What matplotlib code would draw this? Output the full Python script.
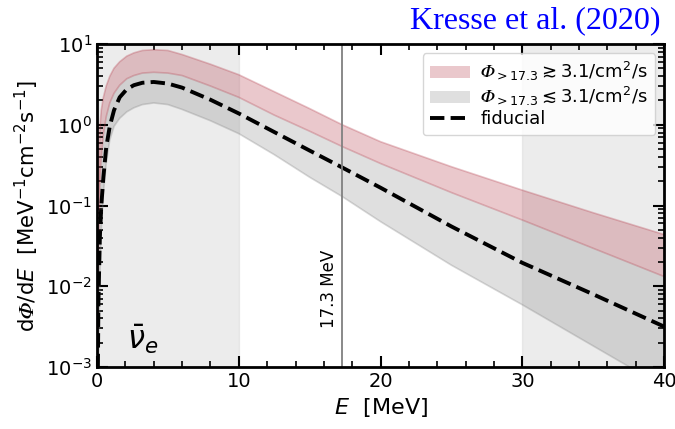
import numpy as np
import matplotlib
matplotlib.use("Agg")
import matplotlib.pyplot as plt

# energy grid (MeV) and log10 of dPhi/dE
energy = [0.02, 0.1, 0.2, 0.3, 0.45, 0.65, 0.9, 1.2, 1.6, 2.1, 2.6, 3.2, 4, 5, 6,
          8, 10, 12.5, 15, 17.3, 20, 25, 30, 35, 40]
logRedUpper = [-3.2, -1.0, -0.05, 0.18, 0.34, 0.48, 0.60, 0.70, 0.78, 0.85, 0.89, 0.92, 0.93, 0.92, 0.87,
               0.75, 0.62, 0.41, 0.20, 0.0, -0.21, -0.52, -0.81, -1.09, -1.36]
logRedLower = [-3.5, -1.6, -0.75, -0.40, -0.12, 0.10, 0.27, 0.39, 0.49, 0.57, 0.61, 0.64, 0.65, 0.64, 0.61,
               0.48, 0.34, 0.12, -0.08, -0.27, -0.48, -0.84, -1.18, -1.53, -1.88]
logFiducial = [-4.0, -2.2, -1.4, -1.01, -0.65, -0.28, -0.02, 0.18, 0.34, 0.44, 0.49, 0.52, 0.53, 0.51, 0.46,
               0.31, 0.14, -0.09, -0.32, -0.53, -0.78, -1.26, -1.71, -2.10, -2.50]
logGrayLower = [-5.0, -3.0, -1.9, -1.3, -0.85, -0.48, -0.19, -0.02, 0.08, 0.16, 0.21, 0.25, 0.27, 0.25, 0.19,
                0.05, -0.11, -0.37, -0.65, -0.89, -1.20, -1.74, -2.23, -2.74, -3.25]

E = np.array(energy)
redUp = 10 ** np.array(logRedUpper)
redLo = 10 ** np.array(logRedLower)
fid = 10 ** np.array(logFiducial)
grayLo = 10 ** np.array(logGrayLower)

plt.rcParams['font.family'] = ['DejaVu Sans']
plt.rcParams['font.size'] = 14

PHI = '\U0001D6F7'  # mathematical italic capital phi

fig = plt.figure(figsize=(6.75, 4.29), dpi=100)
ax = fig.add_axes([0.1437, 0.1445, 0.8403, 0.7529])

# shaded energy windows
ax.axvspan(0, 10, facecolor='gray', alpha=0.15, edgecolor='0.6', lw=1)
ax.axvspan(30, 40, facecolor='gray', alpha=0.15, edgecolor='0.6', lw=1)

redCol = '#b43c4b'
ax.fill_between(E, redLo, redUp, facecolor=redCol, alpha=0.28, edgecolor='none',
                label='$' + PHI + r'_{{>}17.3} \gtrsim 3.1/\mathrm{cm}^2/\mathrm{s}$')
ax.plot(E, redUp, color=redCol, alpha=0.3, lw=1.2)
ax.plot(E, redLo, color=redCol, alpha=0.3, lw=1.2)
ax.fill_between(E, grayLo, redLo, facecolor='gray', alpha=0.25, edgecolor='none',
                label='$' + PHI + r'_{{>}17.3} \lesssim 3.1/\mathrm{cm}^2/\mathrm{s}$')
ax.plot(E, grayLo, color='gray', alpha=0.3, lw=1.2)
ax.plot(E, fid, 'k--', lw=2.8, label='fiducial')

# 17.3 MeV marker
ax.axvline(17.3, color='gray', lw=1.3)
ax.text(17.0, 3e-3, '17.3 MeV', rotation=90, ha='right', va='bottom', fontsize=12)

ax.text(3.2, 2.2e-3, r'$\bar{\nu}_e$', fontsize=22, ha='center', va='center')

ax.set_yscale('log')
ax.set_xlim(0, 40)
ax.set_ylim(1e-3, 10)
ax.set_xticks([0, 10, 20, 30, 40])
ax.set_xticks(np.arange(0, 41, 2), minor=True)
ax.tick_params(which='both', direction='in', top=True, right=True, labelsize=14)
ax.tick_params(which='major', length=8, width=1.5)
ax.tick_params(which='minor', length=4.5, width=1.2)
for s in ax.spines.values():
    s.set_linewidth(2)

ax.set_xlabel(r'$E\ \ [\mathrm{MeV}]$', fontsize=16)
ax.set_ylabel(r'$\mathrm{d}' + PHI + r'/\mathrm{d}E\ \ [\mathrm{MeV}^{-1}\mathrm{cm}^{-2}\mathrm{s}^{-1}]$',
              fontsize=15.3, labelpad=4)

leg = ax.legend(loc='upper right', fontsize=13, handlelength=2.2, borderpad=0.4,
                labelspacing=0.1, handletextpad=0.6, frameon=True, fancybox=True)
leg.get_frame().set_edgecolor('0.8')

fig.text(0.978, 0.952, 'Kresse et al. (2020)', color='blue', ha='right', va='center',
         fontsize=23, family='Liberation Serif')

fig.savefig('out.png', dpi=100)
